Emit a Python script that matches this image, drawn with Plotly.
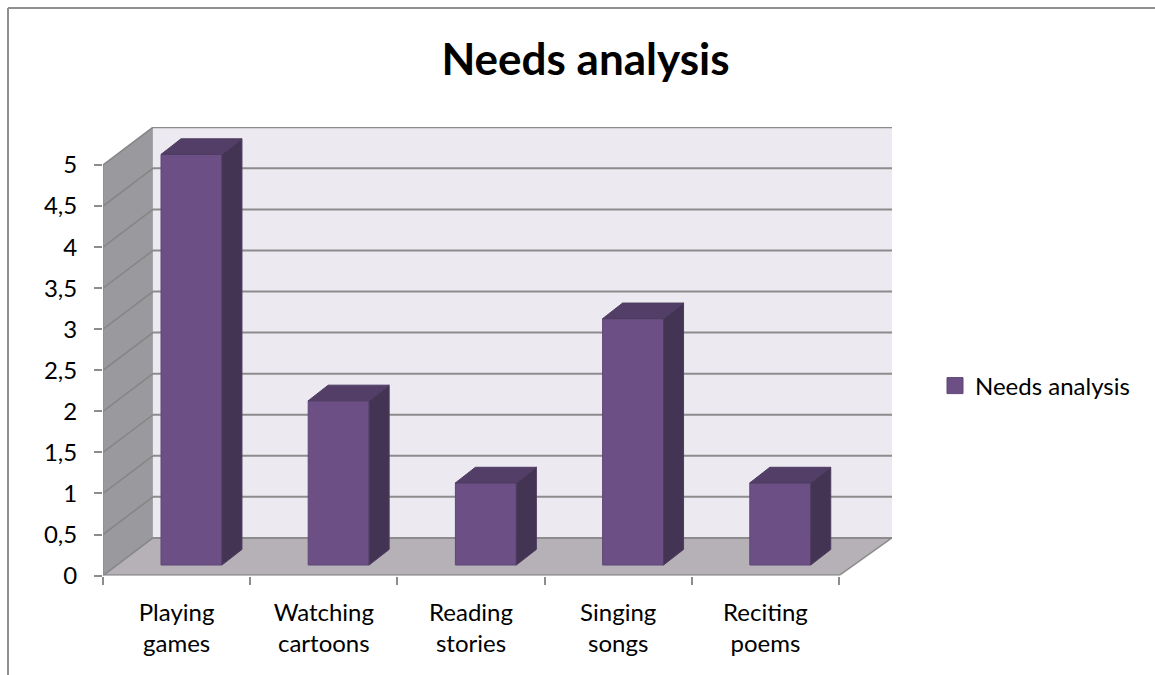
import plotly.graph_objects as go

categories = ["Playing<br>games", "Watching<br>cartoons", "Reading<br>stories", "Singing<br>songs", "Reciting<br>poems"]
values = [5, 2, 1, 3, 1]
y_ticks = [0, 0.5, 1, 1.5, 2, 2.5, 3, 3.5, 4, 4.5, 5]
y_labels = ["0", "0,5", "1", "1,5", "2", "2,5", "3", "3,5", "4", "4,5", "5"]
series_name = "Needs analysis"

W, H = 1155, 675
X0, PX_PER_CAT = 103.0, 147.2
Y0, PX_PER_UNIT = 575.6, 82.12
XR, YT = 5.36, 5.463
DX, DY = 0.339, 0.459        # wall depth
BAR_W, BAR_OFF, BAR_BASE = 0.414, 0.601, 0.129
BDX, BDY = 0.136, 0.19       # bar depth

FONT = "Lato"
GRID = "#8c8c8c"

shapes = []
def poly(pts, fill):
    path = "M" + "L".join(f"{x},{y}" for x, y in pts) + "Z"
    shapes.append(dict(type="path", path=path, xref="x", yref="y", fillcolor=fill,
                       line=dict(width=0), layer="below"))
def seg(x0, y0, x1, y1, w=2, c=GRID):
    shapes.append(dict(type="line", x0=x0, y0=y0, x1=x1, y1=y1, xref="x", yref="y",
                       line=dict(color=c, width=w), layer="below"))

n = len(categories)
poly([(DX, DY), (XR, DY), (XR, YT), (DX, YT)], "#ECE9F1")
poly([(0, 0), (0, 5), (DX, YT), (DX, DY)], "#9A9A9E")
poly([(0, 0), (n, 0), (XR, DY), (DX, DY)], "#B5B1B6")
for v in y_ticks:
    seg(DX, v + DY, XR, v + DY)
    seg(0, v, DX, v + DY, 1.5, "#858585")
seg(0, 0, n, 0, 2.5)
seg(n, 0, XR, DY, 1.5)
seg(0, 0, 0, 5, 1.5)

# outer frame
for x0, y0, x1, y1 in [(8 / W, 0, 8 / W, 1 - 8 / H), (8 / W, 1 - 8 / H, 1, 1 - 8 / H)]:
    shapes.append(dict(type="line", xref="paper", yref="paper", x0=x0, y0=y0, x1=x1, y1=y1,
                       line=dict(color="#8f8f8f", width=2)))

centres = [i + BAR_OFF for i in range(n)]
fig = go.Figure()
fig.add_trace(go.Bar(x=centres, y=values, base=BAR_BASE, width=BAR_W, showlegend=False, name=series_name,
                     marker=dict(color="#6B4F85", line=dict(color="#5F4678", width=1))))
for c, v in zip(centres, values):
    l, r = c - BAR_W / 2, c + BAR_W / 2
    b, t = BAR_BASE, BAR_BASE + v
    fig.add_trace(go.Scatter(x=[r, r + BDX, r + BDX, r, r], y=[b, b + BDY, t + BDY, t, b], mode="lines",
                             fill="toself", fillcolor="#443453", line=dict(color="#4E3C60", width=1),
                             showlegend=False, hoverinfo="skip"))
    fig.add_trace(go.Scatter(x=[l, r, r + BDX, l + BDX, l], y=[t, t, t + BDY, t + BDY, t], mode="lines",
                             fill="toself", fillcolor="#523E67", line=dict(color="#4E3C60", width=1),
                             showlegend=False, hoverinfo="skip"))
fig.add_trace(go.Scatter(x=[None], y=[None], mode="markers", name=series_name,
                         marker=dict(symbol="square", size=16, color="#6B4F85", line=dict(color="#5F4678", width=1))))

fig.update_layout(
    width=W, height=H, autosize=False, margin=dict(l=0, r=0, t=0, b=0),
    paper_bgcolor="white", plot_bgcolor="rgba(0,0,0,0)", showlegend=True,
    font=dict(family=FONT, color="#000000", size=24),
    title=dict(text="<b>Needs analysis</b>", x=585.5 / W, xanchor="center", y=1 - 60 / H, yanchor="middle",
               font=dict(family=FONT, size=44, color="#000000")),
    xaxis=dict(domain=[X0 / W, (X0 + XR * PX_PER_CAT) / W], range=[0, XR], tickmode="array", automargin=False,
               tickvals=[i + 0.5 for i in range(n)], ticktext=categories, ticks="", showgrid=False, zeroline=False,
               showline=False, tickfont=dict(size=24), ticklabelstandoff=20,
               minor=dict(tickmode="array", tickvals=list(range(n + 1)), ticks="outside", ticklen=8, tickwidth=1.5,
                          tickcolor=GRID, showgrid=False)),
    yaxis=dict(domain=[(H - Y0) / H, (H - Y0 + YT * PX_PER_UNIT) / H], range=[0, YT], tickmode="array", automargin=False,
               tickvals=y_ticks, ticktext=y_labels, ticks="outside", ticklen=8, tickwidth=1.5, tickcolor=GRID,
               showgrid=False, zeroline=False, showline=False, tickfont=dict(size=24), ticklabelstandoff=12),
    legend=dict(x=935 / W, y=1 - 386 / H, xanchor="left", yanchor="middle", font=dict(size=24),
                bgcolor="rgba(0,0,0,0)", itemwidth=30),
    shapes=shapes,
)
fig.write_html("out.html", config=dict(displayModeBar=False),
               post_script="document.body.style.margin='0';document.documentElement.style.overflow='hidden';")
